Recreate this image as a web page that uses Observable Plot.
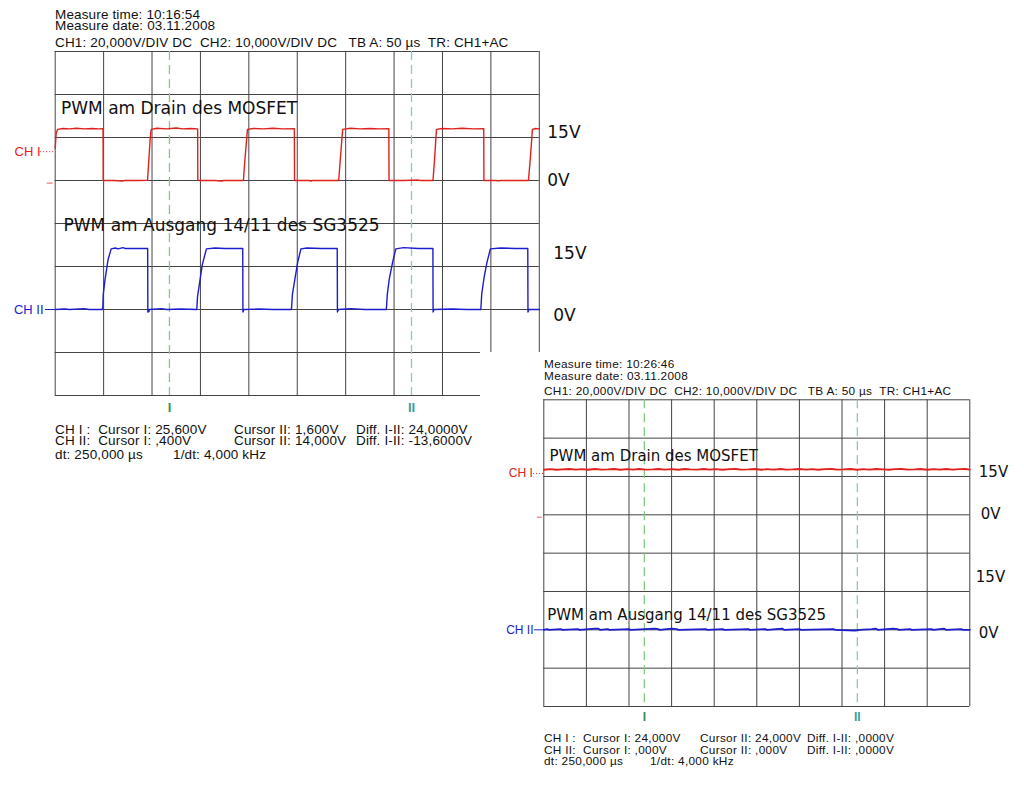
<!DOCTYPE html>
<html><head><meta charset="utf-8">
<script src="https://cdn.jsdelivr.net/npm/d3@7"></script>
<script src="https://cdn.jsdelivr.net/npm/@observablehq/plot@0.6"></script>
<style>
body{margin:0;background:#fff;}
#page{position:relative;width:1024px;height:786px;overflow:hidden;background:#fff;}
.scope{position:absolute;background:#fff;}
.scope svg{position:absolute;left:0;top:0;}
.txt{position:absolute;white-space:pre;font-family:"Liberation Sans",Arial,sans-serif;color:#111;line-height:0.72;}
</style></head><body><div id="page"></div>
<script>
// ---------- data ----------
const divTimes = [0,50,100,150,200,250,300,350,400,450,500];   // µs (50 µs/div)
const divLevels = [0,1,2,3,4,5,6,7,8];                          // vertical divisions
const cursorTimes = [118, 368];                                   // cursor I / II (dt 250 µs)
const cursorNames = ["I", "II"];
const ch1VoltsPerDiv = 20, ch1ZeroDiv = 5;
const ch2VoltsPerDiv = 10, ch2ZeroDiv = 2;

// Screenshot 1 (10:16:54) – CH1: drain of MOSFET [t µs, V]
const scope1Ch1 = [[0,15],[1,22],[2.5,23.8],[8,24.2],[15,24.0],[22,24.3],[30,24.0],[38,24.2],[45,24.0],[49.4,24.1],[49.6,0.2],[50,0],[60,0],[70,-0.2],[72,0],[85,0],[95.4,0.1],[96.5,8],[98.2,20],[99.2,23.8],[105,24.3],[115,24.0],[125,24.4],[132,24.0],[140,24.2],[147.1,24.0],[147.3,0.2],[148,0],[165,0],[172,-0.3],[174,0],[194.4,0],[196,10],[198.6,23.8],[205,24.2],[215,24.0],[225,24.3],[235,24.0],[247,24.1],[247.2,0],[262,0],[264,-0.3],[266,0],[292.8,0],[294.5,10],[296.9,23.8],[305,24.3],[315,24.0],[325,24.2],[335,24.0],[344.6,24.1],[344.8,0],[360,0],[375,0.2],[377,0],[390.2,0],[391.7,9],[393.8,23.8],[400,24.2],[410,24.0],[420,24.3],[432,24.0],[442.6,24.1],[442.8,0],[455,0],[458,-0.2],[460,0],[488.8,0],[490.5,9],[492.9,23.8],[496,24.2],[500,24.0]];
// Screenshot 1 – CH2: output 14/11 of SG3525 [t µs, V]
const scope1Ch2 = [[0,0],[10,0.1],[15,0],[30,0.2],[35,0],[48.5,0],[49.2,0.5],[49.6,3.5],[51.5,7],[54.5,11.5],[57.8,14.1],[62,14.3],[65,14.1],[70,14.4],[72,14.2],[80,14.2],[95.5,14.2],[95.7,-0.6],[96.8,-0.5],[97.2,0],[110,0.2],[115,0],[130,0.1],[146.2,0],[147,3],[149,6],[152,10.5],[156.2,14.1],[165,14.3],[175,14.2],[193.7,14.2],[193.9,-0.6],[195,0],[210,0.1],[225,0],[244,0],[245,3.5],[247.5,7],[250.5,11],[253.8,14.1],[260,14.3],[275,14.2],[291.3,14.2],[291.5,-0.6],[292.5,0],[305,0.2],[320,0],[342,0],[343,3.5],[345,7],[348.5,11],[351.8,14.1],[360,14.4],[375,14.2],[390.1,14.2],[390.3,-0.6],[391.2,0],[410,0.1],[425,0],[439.6,0],[440.5,3.5],[443,7.5],[446,11],[449.5,14.1],[460,14.3],[475,14.2],[488.1,14.2],[488.3,-0.6],[489.2,0],[500,0]];

// Screenshot 2 (10:26:46) – CH1 stuck high, CH2 flat [t µs, V]
const scope2Ch1 = [[0,23.5],[8,23.8],[15,23.5],[22,23.7],[30,23.9],[38,23.6],[45,23.8],[52,23.5],[60,23.9],[68,23.6],[75,23.7],[82,23.9],[90,23.5],[98,23.8],[105,23.6],[112,23.9],[120,23.6],[128,23.7],[135,23.9],[142,23.6],[150,23.8],[158,23.5],[165,23.9],[172,23.7],[180,23.6],[188,23.9],[195,23.6],[202,23.8],[210,23.5],[218,23.8],[225,23.9],[232,23.6],[240,23.7],[248,23.9],[255,23.5],[262,23.8],[270,23.6],[278,23.9],[285,23.6],[292,23.7],[300,23.9],[308,23.6],[315,23.8],[322,23.5],[330,23.8],[338,23.9],[345,23.6],[352,23.7],[360,23.9],[368,23.5],[375,23.8],[382,23.6],[390,23.9],[398,23.7],[405,23.5],[412,23.8],[420,23.9],[428,23.6],[435,23.7],[442,23.9],[450,23.5],[458,23.8],[465,23.6],[472,23.9],[480,23.6],[488,23.8],[495,23.9],[500,23.6]];
const scope2Ch2 = [[0,0],[4,0.2],[6,0],[20,0.2],[22,0],[40,0.2],[42,0],[60,0.3],[64,0.3],[66,0],[75,0.2],[77,0],[100,0.2],[102,0],[130,0.3],[134,0.2],[136,0],[150,0.3],[156,0.2],[158,0],[190,0.2],[192,0],[210,0.2],[212,0],[240,0.2],[242,0],[260,0.2],[262,0],[280,0.3],[282,0],[300,0.2],[302,0],[340,0.2],[342,0],[365,-0.2],[370,0],[385,0.2],[390,0.3],[392,0],[410,0.3],[415,0.2],[417,0],[430,0.2],[432,0],[455,0.2],[457,0],[470,0.3],[472,0],[490,0.2],[492,0],[500,0]];

// texts
const traceTitles = ["PWM am Drain des MOSFET", "PWM am Ausgang 14/11 des SG3525"];
const levelLabels = ["15V", "0V", "15V", "0V"];
const channelNames = ["CH I", "CH II"];
const header1 = ["Measure time: 10:16:54", "Measure date: 03.11.2008", "CH1: 20,000V/DIV DC  CH2: 10,000V/DIV DC   TB A: 50 µs  TR: CH1+AC"];
const header2 = ["Measure time: 10:26:46", "Measure date: 03.11.2008", "CH1: 20,000V/DIV DC  CH2: 10,000V/DIV DC   TB A: 50 µs  TR: CH1+AC"];
const footer1 = [["CH I :  Cursor I: 25,600V", "Cursor II: 1,600V", "Diff. I-II: 24,0000V"],
                 ["CH II:  Cursor I: ,400V", "Cursor II: 14,000V", "Diff. I-II: -13,6000V"],
                 ["dt: 250,000 µs", "1/dt: 4,000 kHz"]];
const footer2 = [["CH I :  Cursor I: 24,000V", "Cursor II: 24,000V", "Diff. I-II: ,0000V"],
                 ["CH II:  Cursor I: ,000V", "Cursor II: ,000V", "Diff. I-II: ,0000V"],
                 ["dt: 250,000 µs", "1/dt: 4,000 kHz"]];

// ---------- layout / style ----------
const scopes = [
  {left:0, top:0, width:600, height:470, mL:54.7, mT:51, mR:61.2, mB:75,
   ch1:scope1Ch1, ch2:scope1Ch2, titleSize:17, titlePos:[[6,6.67],[8.6,3.95]],
   lvl:[[6.12,8],[5.0,8],[3.3,14],[1.86,14]], lvlSize:17,
   ch1Mark:5.67, chMarkSize:13, ch1Dx:-14.7, ch2Dx:-11.7, ch1Dot:-15, ch2Line:-10, gndX:[-8.3,-2.1], gndDy:2.6,
   traceW:1.4, curDy:12, curSize:13,
   header:header1, hx:55, hy:[14.5,26,43], hSize:13.5, ls:0.15,
   footer:footer1, fy:[429.5,441,455], fx:[[55,234,356],[55,234,356],[55,173]], fSize:13.5},
  {left:480, top:352, width:544, height:434, mL:63.3, mT:47.3, mR:54.7, mB:80,
   ch1:scope2Ch1, ch2:scope2Ch2, titleSize:15, titlePos:[[6.7,6.52],[4,2.37]],
   lvl:[[6.11,9],[5.01,11],[3.37,6],[1.91,9]], lvlSize:15,
   ch1Mark:6.08, chMarkSize:12, ch1Dx:-11, ch2Dx:-10.3, ch1Dot:-12, ch2Line:-11, gndX:[-7.7,-1.9], gndDy:2.4,
   traceW:1.8, curDy:11, curSize:12,
   header:header2, hx:544, hy:[364.3,375.8,391.7], hSize:11.8, ls:0.3,
   footer:footer2, fy:[738.5,749.8,761], fx:[[544,700,807],[544,700,807],[544,650]], fSize:11.8}
];

const red = "#e0201c", blue = "#1c1cd0", gridColor = "#444";
const cursorColors = ["#86c986", "#86c9cc"], cursorMarkColors = ["#3a8f55", "#3a9ea2"];
const page = document.getElementById("page");

function toDiv(pts, vpd, zero) { return pts.map(([t, v]) => ({t, y: zero + v / vpd})); }

function addText(str, x, cy, size, ls) {
  const d = document.createElement("div");
  d.className = "txt";
  d.style.left = x + "px";
  d.style.top = (cy - 0.36 * size) + "px";
  d.style.fontSize = size + "px";
  d.style.letterSpacing = ls + "px";
  d.textContent = str;
  page.appendChild(d);
}

for (const s of scopes) {
  const box = document.createElement("div");
  box.className = "scope";
  Object.assign(box.style, {left: s.left + "px", top: s.top + "px", width: s.width + "px", height: s.height + "px"});
  const lvlData = s.lvl.map(([y, dx], i) => ({y, dx, label: levelLabels[i]}));
  const chart = Plot.plot({
    width: s.width, height: s.height,
    marginLeft: s.mL, marginTop: s.mT, marginRight: s.mR, marginBottom: s.mB,
    x: {domain: [0, 500], axis: null},
    y: {domain: [0, 8], axis: null},
    style: {background: "transparent", overflow: "visible"},
    marks: [
      Plot.ruleX(divTimes, {stroke: gridColor, strokeWidth: 1}),
      Plot.ruleY(divLevels, {stroke: gridColor, strokeWidth: 1}),
      Plot.ruleX(cursorTimes, {stroke: (d, i) => cursorColors[i], strokeWidth: 1.3, strokeDasharray: "9,5"}),
      Plot.text(cursorTimes, {x: d => d, y: 0, dy: s.curDy, text: (d, i) => cursorNames[i], fill: (d, i) => cursorMarkColors[i], fontSize: s.curSize, fontFamily: "Liberation Sans", fontWeight: "bold"}),
      Plot.text(traceTitles, {x: (d, i) => s.titlePos[i][0], y: (d, i) => s.titlePos[i][1], text: d => d, textAnchor: "start", fontFamily: "DejaVu Sans", fontSize: s.titleSize, fill: "#111"}),
      Plot.line(toDiv(s.ch2, ch2VoltsPerDiv, ch2ZeroDiv), {x: "t", y: "y", stroke: blue, strokeWidth: s.traceW}),
      Plot.line(toDiv(s.ch1, ch1VoltsPerDiv, ch1ZeroDiv), {x: "t", y: "y", stroke: red, strokeWidth: s.traceW}),
      Plot.text(lvlData, {x: 500, y: "y", text: "label", textAnchor: "start", fontFamily: "DejaVu Sans", fontSize: s.lvlSize, fill: "#111", className: "lvl"}),
      // channel markers
      Plot.text([channelNames[0]], {x: 0, y: s.ch1Mark, dx: s.ch1Dx, text: d => d, textAnchor: "end", fill: red, fontSize: s.chMarkSize, fontFamily: "Liberation Sans"}),
      Plot.ruleY([s.ch1Mark], {x1: s.ch1Dot, x2: 0, stroke: red, strokeDasharray: "1,2", strokeWidth: 1}),
      Plot.text([channelNames[1]], {x: 0, y: ch2ZeroDiv, dx: s.ch2Dx, text: d => d, textAnchor: "end", fill: blue, fontSize: s.chMarkSize, fontFamily: "Liberation Sans"}),
      Plot.ruleY([ch2ZeroDiv], {x1: s.ch2Line, x2: 0, stroke: blue, strokeWidth: 1}),
      Plot.ruleY([ch1ZeroDiv], {x1: s.gndX[0], x2: s.gndX[1], dy: s.gndDy, stroke: "#e87a7a", strokeWidth: 1.2})
    ]
  });
  box.appendChild(chart);
  page.appendChild(box);
  // per-label horizontal offset of the level labels
  const labelNodes = Array.from(chart.querySelectorAll("g.lvl text"));
  labelNodes.forEach((t, i) => {
    const tr = t.getAttribute("transform") || "";
    t.setAttribute("transform", tr + ` translate(${lvlData[i].dx},0)`);
  });
  s.header.forEach((h, i) => addText(h, s.hx, s.hy[i], s.hSize, s.ls));
  s.footer.forEach((row, r) => row.forEach((str, c) => addText(str, s.fx[r][c], s.fy[r], s.fSize, s.ls)));
}
</script></body></html>
